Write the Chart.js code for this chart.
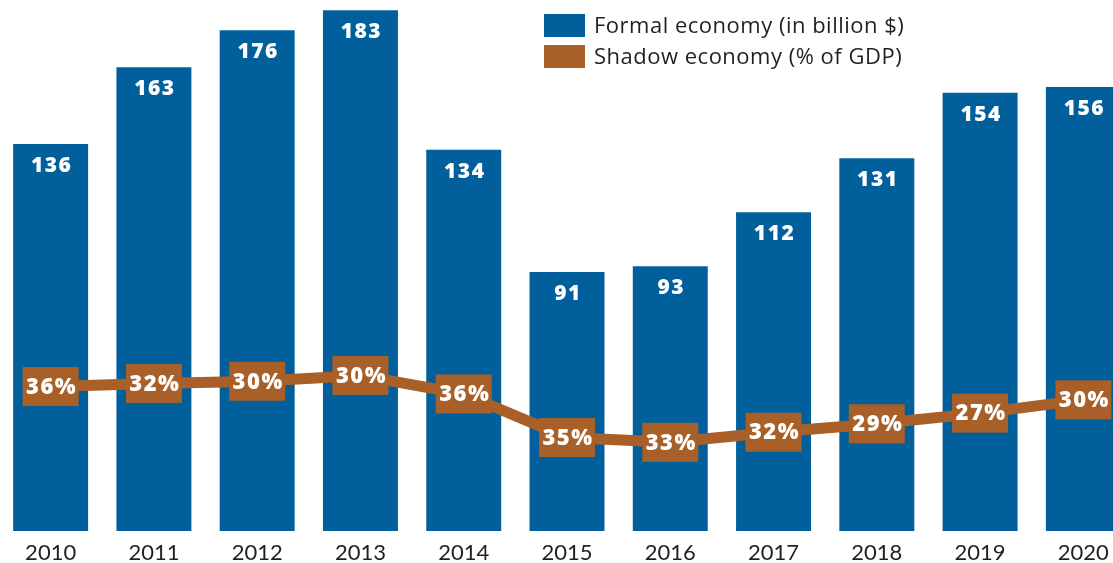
<!DOCTYPE html>
<html>
<head>
<meta charset="utf-8">
<script src="https://cdn.jsdelivr.net/npm/chart.js@4"></script>
<style>
  html, body { margin: 0; padding: 0; background: #fff; overflow: hidden; }
  #wrap { position: absolute; left: -1px; top: 0; width: 1136px; height: 563px; }
</style>
</head>
<body>
<div id="wrap"><canvas id="chart"></canvas></div>
<script>
// Formal vs shadow economy, 2010-2020
const years = ['2010','2011','2012','2013','2014','2015','2016','2017','2018','2019','2020'];
const formalEconomy = [136, 163, 176, 183, 134, 91, 93, 112, 131, 154, 156];
const shadowPct = [36, 32, 30, 30, 36, 35, 33, 32, 29, 27, 30];
// height of the shadow line as drawn (0-100 of the plot height, not the % value)
const shadowLevel = [27.2, 27.8, 28.2, 29.3, 25.8, 17.6, 16.7, 18.6, 20.2, 22.2, 24.7];

const BLUE = '#01609C';
const BROWN = '#A85F28';
const TEXT = '#231F20';

// value boxes on the line + numbers inside bars
const labelsPlugin = {
  id: 'labels',
  afterDatasetsDraw(chart) {
    const ctx = chart.ctx;
    ctx.save();
    ctx.textAlign = 'center';
    ctx.textBaseline = 'middle';
    ctx.fillStyle = '#fff';
    ctx.font = '800 21px "Open Sans"';
    ctx.letterSpacing = '1.5px';
    chart.getDatasetMeta(0).data.forEach((bar, i) => {
      ctx.fillText(formalEconomy[i], bar.x + 1, bar.y + 22);
    });
    chart.getDatasetMeta(1).data.forEach((pt, i) => {
      ctx.fillStyle = BROWN;
      ctx.fillRect(pt.x - 28, pt.y - 19.5, 56, 39);
      ctx.fillStyle = '#fff';
      ctx.font = '800 22px "Open Sans"';
      ctx.fillText(shadowPct[i] + '%', pt.x + 1, pt.y + 1);
    });
    ctx.restore();
  }
};

// legend drawn over the plot, top right
const legendPlugin = {
  id: 'overLegend',
  afterDraw(chart) {
    const ctx = chart.ctx;
    const items = [
      { text: 'Formal economy (in billion $)', color: BLUE },
      { text: 'Shadow economy (% of GDP)', color: BROWN }
    ];
    ctx.save();
    ctx.textBaseline = 'middle';
    ctx.textAlign = 'left';
    ctx.font = '22px "Open Sans"';
    ctx.letterSpacing = '0.5px';
    items.forEach((it, i) => {
      const y = 14 + i * 31;
      ctx.fillStyle = it.color;
      ctx.fillRect(545, y, 41, 23);
      ctx.fillStyle = TEXT;
      ctx.fillText(it.text, 595, y + 13);
    });
    ctx.restore();
  }
};

new Chart(document.getElementById('chart'), {
  data: {
    labels: years,
    datasets: [
      {
        type: 'bar',
        label: 'Formal economy (in billion $)',
        data: formalEconomy,
        backgroundColor: BLUE,
        barPercentage: 0.726,
        categoryPercentage: 1,
        yAxisID: 'y',
        order: 2
      },
      {
        type: 'line',
        label: 'Shadow economy (% of GDP)',
        data: shadowLevel,
        borderColor: BROWN,
        borderWidth: 11,
        pointRadius: 0,
        tension: 0,
        borderCapStyle: 'butt',
        yAxisID: 'y1',
        order: 1
      }
    ]
  },
  options: {
    responsive: true,
    maintainAspectRatio: false,
    animation: false,
    layout: { padding: 0 },
    plugins: {
      legend: { display: false },
      tooltip: { enabled: false }
    },
    scales: {
      x: {
        offset: true,
        grid: { display: false, drawTicks: false },
        border: { display: false },
        ticks: { color: TEXT, font: { family: 'Lato', size: 22 }, padding: 9, maxRotation: 0 },
        afterFit: (scale) => { scale.height = 32; }
      },
      y: { display: false, min: 0, max: 186.6 },
      y1: { display: false, min: 0, max: 100 }
    }
  },
  plugins: [labelsPlugin, legendPlugin]
});
</script>
</body>
</html>
